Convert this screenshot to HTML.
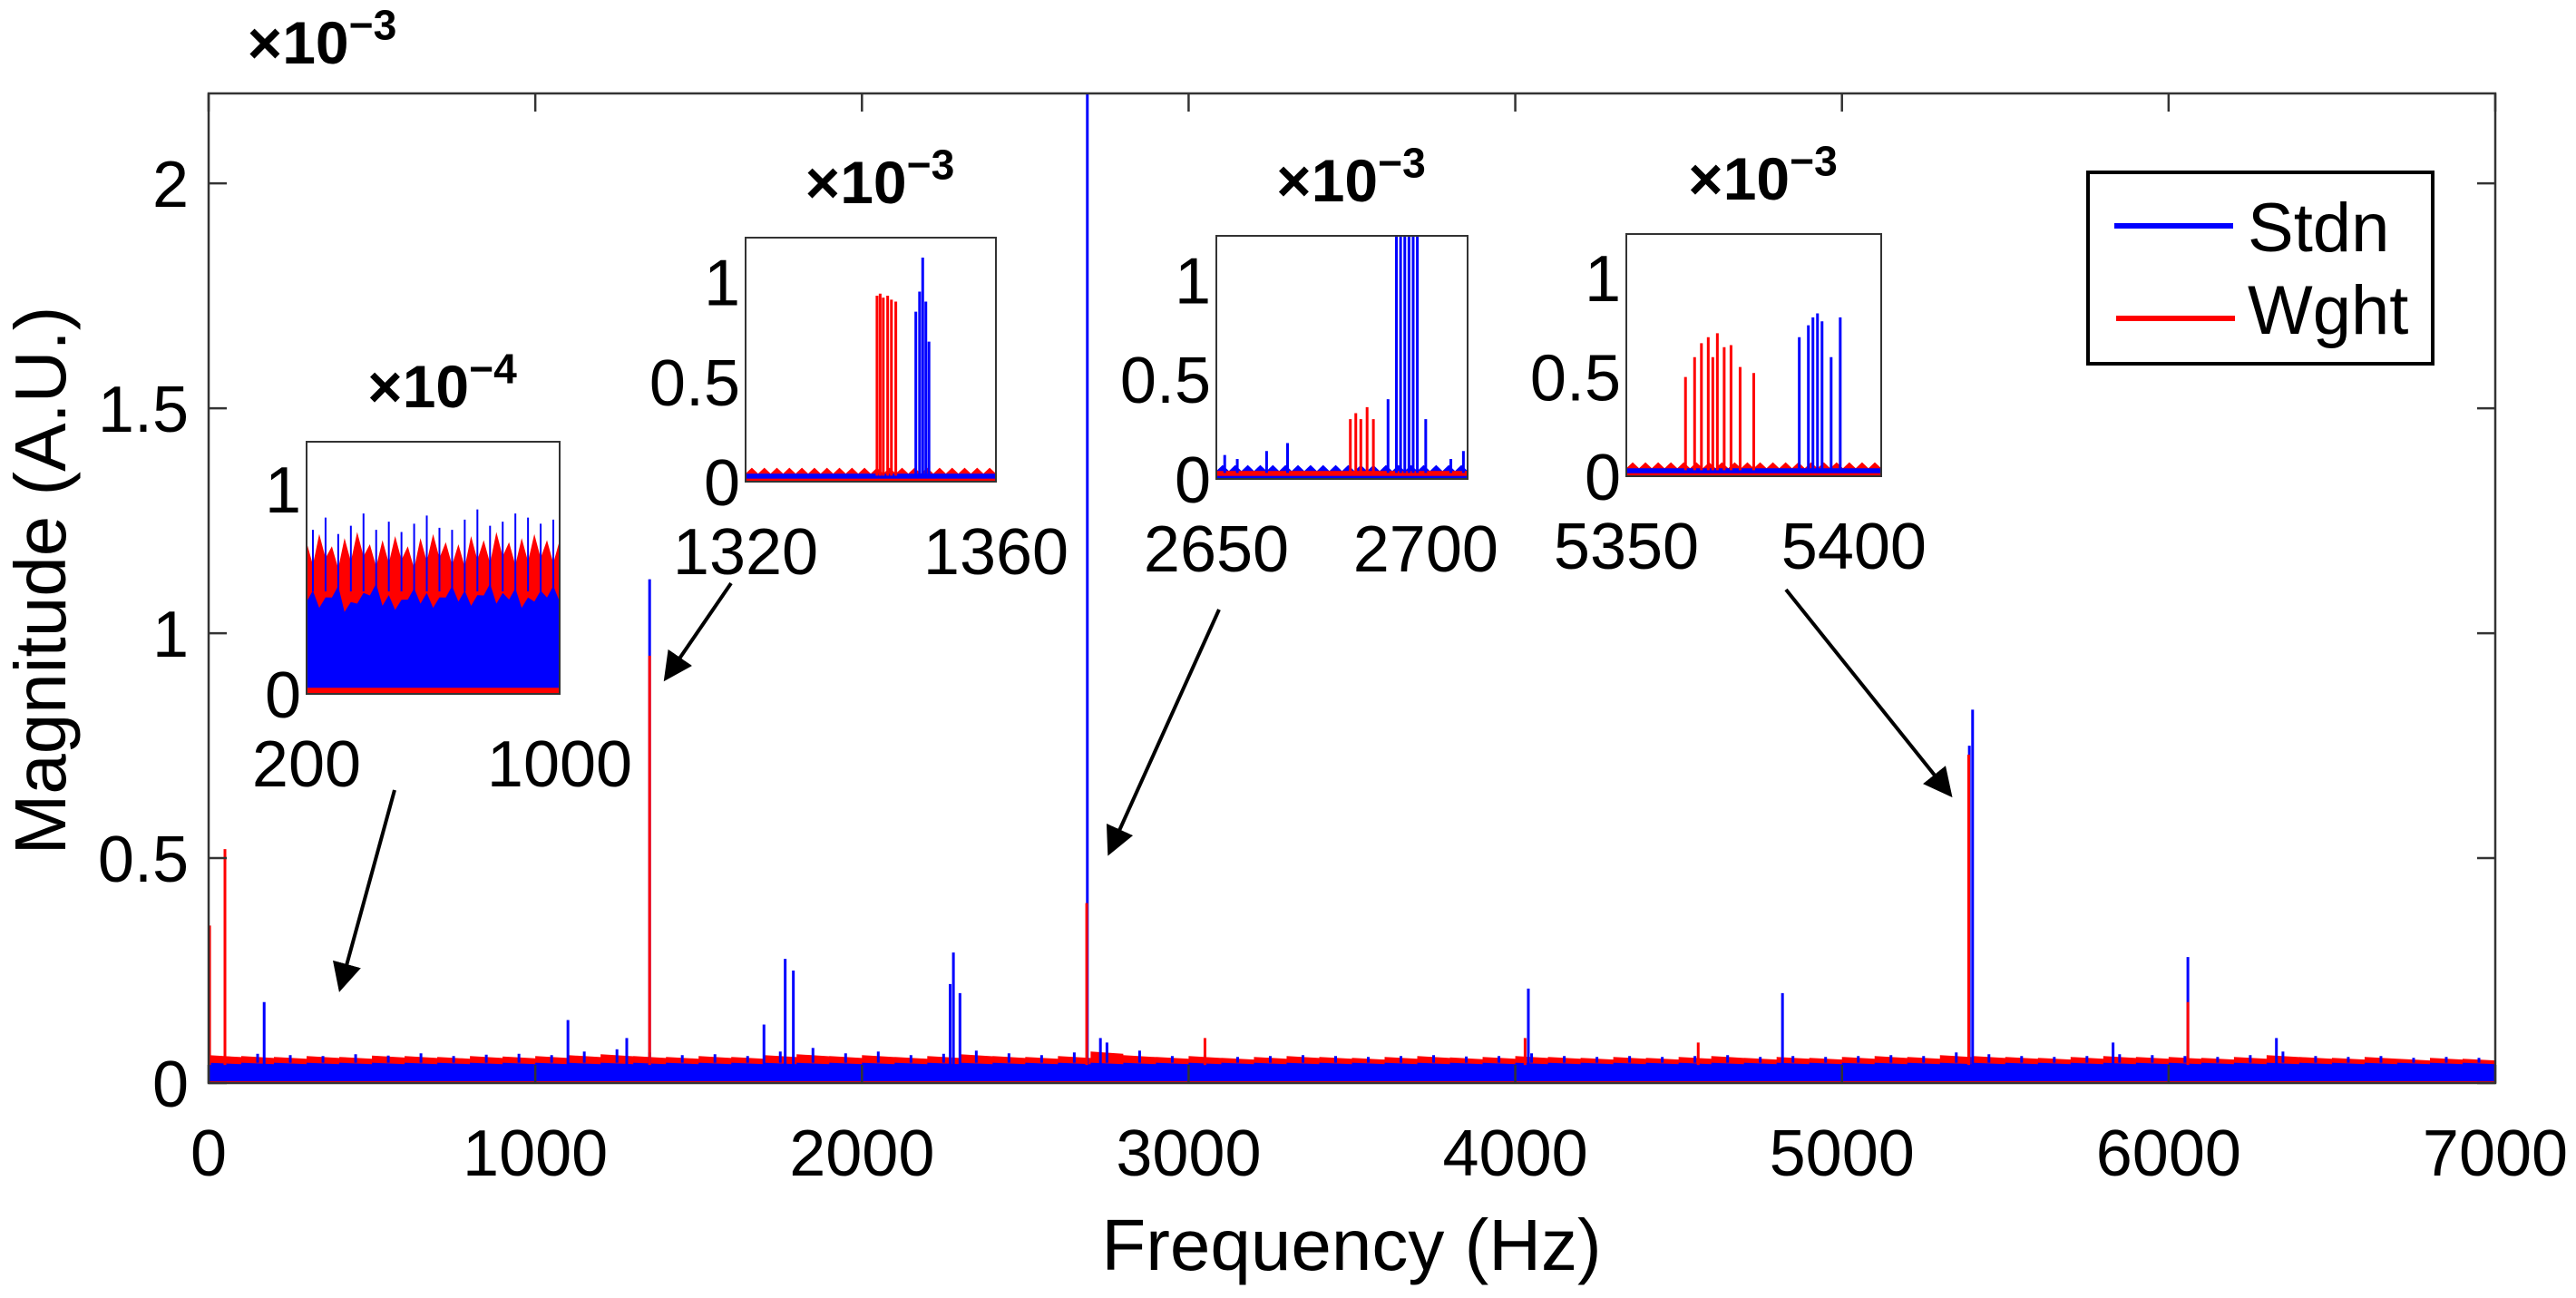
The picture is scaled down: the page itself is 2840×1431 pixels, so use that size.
<!DOCTYPE html>
<html><head><meta charset="utf-8"><style>
html,body{margin:0;padding:0;background:#fff;}
svg{display:block;font-family:"Liberation Sans",Arial,sans-serif;}
</style></head><body>
<svg id="chart" width="2840" height="1431" viewBox="0 0 2840 1431" xmlns="http://www.w3.org/2000/svg"></svg>
<script>
// ---------- data (values in units of 1e-3 for main, per inset scale for insets) ----------
const xTicks = [0,1000,2000,3000,4000,5000,6000,7000];
const yTicks = [0,0.5,1,1.5,2];
const yTickLabels = ["0","0.5","1","1.5","2"];
// noise floor envelopes per 100 Hz bin (0..7000)
const blueTop = [0.07,0.065,0.062,0.06,0.064,0.061,0.066,0.06,0.063,0.065,0.062,0.07,0.075,0.068,0.062,0.064,0.06,0.07,0.078,0.066,0.07,0.062,0.065,0.072,0.066,0.062,0.068,0.09,0.072,0.06,0.062,0.058,0.06,0.062,0.06,0.058,0.06,0.062,0.059,0.06,0.066,0.06,0.058,0.06,0.058,0.06,0.062,0.058,0.06,0.058,0.06,0.062,0.06,0.068,0.064,0.06,0.058,0.06,0.064,0.062,0.06,0.058,0.062,0.07,0.06,0.058,0.06,0.056,0.058,0.056];
const redTop = [0.062,0.06,0.058,0.06,0.058,0.061,0.06,0.058,0.06,0.059,0.06,0.062,0.064,0.06,0.058,0.06,0.058,0.062,0.064,0.06,0.062,0.058,0.06,0.064,0.06,0.058,0.06,0.07,0.062,0.058,0.06,0.056,0.058,0.06,0.058,0.056,0.058,0.06,0.057,0.058,0.06,0.058,0.056,0.058,0.056,0.058,0.06,0.056,0.058,0.056,0.058,0.06,0.058,0.062,0.06,0.058,0.056,0.058,0.06,0.058,0.058,0.056,0.058,0.062,0.058,0.056,0.058,0.054,0.056,0.054];
const blueFloor = 0.045;
// spikes
const blueSpikeF = [50,170,1100,1280,1350,1700,1765,1790,2270,2280,2300,2690,2730,4040,4818,5390,5400,5830,6059,6330];
const blueSpikeV = [0.36,0.18,0.14,0.1,1.12,0.13,0.276,0.25,0.22,0.29,0.2,2.3,0.1,0.21,0.2,0.75,0.83,0.09,0.28,0.1];
const redSpikeF = [3,50,1350,2688,3050,4030,4560,5388,6059];
const redSpikeV = [0.35,0.52,0.95,0.4,0.1,0.1,0.09,0.73,0.18];
// insets
const in1X = [200,1000];
const in1BlueSolid = [0.45,0.42,0.47,0.4,0.44,0.48,0.43,0.41,0.46,0.44,0.42,0.47,0.45,0.43,0.48,0.44,0.46,0.42,0.45,0.47];
const in1RedTop = [0.74,0.78,0.72,0.76,0.79,0.73,0.75,0.77,0.72,0.76,0.78,0.74,0.73,0.77,0.75,0.79,0.74,0.76,0.78,0.75];
const in1BlueTop = [0.8,0.86,0.78,0.82,0.88,0.8,0.84,0.79,0.83,0.87,0.81,0.8,0.85,0.9,0.82,0.84,0.88,0.86,0.83,0.85];
const in2X = [1320,1360];
const in2RedF = [1341,1341.5,1342,1342.7,1343.3,1344];
const in2RedV = [0.93,0.94,0.92,0.93,0.91,0.9];
const in2BlueF = [1347.2,1347.8,1348.3,1348.8,1349.3];
const in2BlueV = [0.85,0.95,1.12,0.9,0.7];
const in3X = [2650,2710];
const in3RedF = [2682,2683.3,2684.5,2686,2687.5];
const in3RedV = [0.3,0.33,0.3,0.36,0.3];
const in3BlueF = [2691,2693,2694,2695,2696,2697,2698,2700];
const in3BlueV = [0.4,1.3,1.3,1.3,1.3,1.3,1.3,0.3];
const in3BlueSmallF = [2652,2655,2662,2667,2706,2709];
const in3BlueSmallV = [0.12,0.1,0.14,0.18,0.1,0.14];
const in4X = [5350,5406];
const in4RedF = [5363,5365,5366.5,5368,5369,5370,5371.5,5373,5375,5378];
const in4RedV = [0.5,0.6,0.67,0.7,0.6,0.72,0.65,0.66,0.55,0.52];
const in4BlueF = [5388,5390,5391,5392,5393,5395,5397];
const in4BlueV = [0.7,0.76,0.8,0.82,0.78,0.6,0.8];

// ---------- helpers ----------
const svg = document.getElementById('chart');
const NS = 'http://www.w3.org/2000/svg';
function mk(tag, attrs, parent){const e=document.createElementNS(NS,tag);for(const k in attrs)e.setAttribute(k,attrs[k]);(parent||svg).appendChild(e);return e;}
function txt(s, x, y, size, anchor, parent){const t=mk('text',{x:x,y:y,'font-size':size,'text-anchor':anchor||'middle',fill:'#000'},parent);t.textContent=s;return t;}

// main axes
const L=230,R=2751,T=103,B=1194, yMax=2.2, xMax=7000;
const xs = f => L + f/xMax*(R-L);
const ys = v => B - Math.min(v,yMax)/yMax*(B-T);

const plot = mk('g',{});


const clip = mk('clipPath',{id:'mainclip'});
mk('rect',{x:L,y:T,width:R-L,height:B-T},clip);
const dataG = mk('g',{'clip-path':'url(#mainclip)'},plot);

function bandPath(arr, xf, yf, x0, step, base){
  let d='M'+xf(x0)+','+yf(base);
  arr.forEach((v,i)=>{d+=' L'+xf(x0+i*step)+','+yf(v)+' L'+xf(x0+(i+1)*step)+','+yf(v*0.93);});
  d+=' L'+xf(x0+arr.length*step)+','+yf(base)+' Z';return d;
}
const redBand = mk('path',{d:bandPath(redTop,xs,ys,0,100,0),fill:'#ff0000'},dataG);


const blueBand = mk('path',{d:bandPath(blueTop.map(()=>blueFloor),xs,ys,0,100,0.004),fill:'#0000ff'},dataG);


blueTop.forEach((v,i)=>{
  const l=mk('line',{x1:xs(i*100+50),x2:xs(i*100+50),y1:ys(blueFloor),y2:ys(v),stroke:'#0000ff','stroke-width':3},dataG);
  
  
});
blueSpikeF.forEach((f,i)=>{
  const l=mk('line',{x1:xs(f),x2:xs(f),y1:ys(0.04),y2:ys(blueSpikeV[i]),stroke:'#0000ff','stroke-width':3},dataG);
  
  
});
redSpikeF.forEach((f,i)=>{
  const l=mk('line',{x1:xs(f),x2:xs(f),y1:ys(0.04),y2:ys(redSpikeV[i]),stroke:'#ff0000','stroke-width':3},dataG);
  
  
});

// frame & ticks
const frame = mk('rect',{x:L,y:T,width:R-L,height:B-T,fill:'none',stroke:'#333','stroke-width':2.5});


xTicks.forEach(t=>{
  mk('line',{x1:xs(t),x2:xs(t),y1:B,y2:B-20,stroke:'#333','stroke-width':2.5});
  mk('line',{x1:xs(t),x2:xs(t),y1:T,y2:T+20,stroke:'#333','stroke-width':2.5});
  const lb=txt(String(t),xs(t),1296,72);
  
  
});
yTicks.forEach((t,i)=>{
  mk('line',{x1:L,x2:L+20,y1:ys(t),y2:ys(t),stroke:'#333','stroke-width':2.5});
  mk('line',{x1:R,x2:R-20,y1:ys(t),y2:ys(t),stroke:'#333','stroke-width':2.5});
  const lb=txt(yTickLabels[i],208,ys(t)+26,72,'end');
  
  
});
function expo(base, e, x, y, size, name){
  const t=mk('text',{x:x,y:y,'font-size':size,'text-anchor':'middle',fill:'#000','font-weight':'bold'});
  
  
  const a=mk('tspan',{},t);a.textContent=base;
  const b=mk('tspan',{dy:-size*0.4,'font-size':size*0.7},t);b.textContent=e;
}
expo('×10','−3',355,70,66,'y-axis-exponent');
const xt=txt('Frequency (Hz)',1490,1400,80);


const yt=txt('Magnitude (A.U.)',0,0,80);
yt.setAttribute('transform','translate(72,640) rotate(-90)');



// legend
const lg=mk('g',{});


mk('rect',{x:2302,y:190,width:380,height:211,fill:'#fff',stroke:'#000','stroke-width':4},lg);
mk('line',{x1:2331,x2:2462,y1:249,y2:249,stroke:'#0000ff','stroke-width':6},lg);
mk('line',{x1:2333,x2:2464,y1:351,y2:351,stroke:'#ff0000','stroke-width':6},lg);
const e1=txt('Stdn',2478,277,76,'start',lg);


const e2=txt('Wght',2478,368,76,'start',lg);



// arrows
mk('defs',{}).innerHTML='<marker id="ah" markerWidth="8" markerHeight="8" refX="7" refY="4" orient="auto" markerUnits="strokeWidth"><path d="M0,0 L8,4 L0,8 Z" fill="#000"/></marker>';
[[435,871,375,1090],[806,643,734,748],[1344,672,1223,940],[1969,650,2150,876]].forEach(a=>{
  const l=mk('line',{x1:a[0],y1:a[1],x2:a[2],y2:a[3],stroke:'#000','stroke-width':4,'marker-end':'url(#ah)'});
  
  
});

// insets
function inset(name, x0,x1,y0,y1, xr, yMaxI, yticks, xlabels, xlabelPos, expE, draw){
  const g=mk('g',{});
  
  
  const fx=f=>x0+(f-xr[0])/(xr[1]-xr[0])*(x1-x0);
  const fy=v=>y1-Math.min(v,yMaxI)/yMaxI*(y1-y0);
  const cid=name+'-clip';
  const c=mk('clipPath',{id:cid},g);mk('rect',{x:x0,y:y0,width:x1-x0,height:y1-y0},c);
  mk('rect',{x:x0,y:y0,width:x1-x0,height:y1-y0,fill:'#fff'},g);
  const dg=mk('g',{'clip-path':'url(#'+cid+')'},g);
  draw(dg,fx,fy);
  mk('rect',{x:x0,y:y0,width:x1-x0,height:y1-y0,fill:'none',stroke:'#333','stroke-width':2},g);
  yticks.forEach(t=>{
    const lb=txt(String(t),x0-6,fy(t)+26,72,'end',g);
    
    
  });
  xlabels.forEach((t,i)=>{
    const lb=txt(String(t),fx(xlabelPos[i]),y1+102,72,'middle',g);
    
    
  });
  expo('×10',expE,(x0+x1)/2+10,y0-38,66,name+'-exponent');
}
function floorBand(dg,fx,fy,xr,red){
  const n=40, st=(xr[1]-xr[0])/n;
  let d='M'+fx(xr[0])+','+fy(0);
  for(let i=0;i<=n;i++){d+=' L'+fx(xr[0]+i*st)+','+fy(i%2?0.07:0.04);}
  d+=' L'+fx(xr[1])+','+fy(0)+' Z';
  mk('path',{d:d,fill:red?'#ff0000':'#0000ff'},dg);
  mk('rect',{x:fx(xr[0]),y:fy(0.04),width:fx(xr[1])-fx(xr[0]),height:fy(0.015)-fy(0.04),fill:red?'#0000ff':'#ff0000'},dg);
}
function lines(dg,fx,fy,F,V,col){F.forEach((f,i)=>{const l=mk('line',{x1:fx(f),x2:fx(f),y1:fy(0.03),y2:fy(V[i]),stroke:col,'stroke-width':3},dg);});}

inset('inset-200-1000',338,617,487,765,in1X,1.23,[0,1],[200,1000],[200,1000],'−4',(dg,fx,fy)=>{
  const n=in1RedTop.length, st=(in1X[1]-in1X[0])/n;
  let d='M'+fx(in1X[0])+','+fy(0);
  in1RedTop.forEach((v,i)=>{d+=' L'+fx(in1X[0]+i*st)+','+fy(v)+' L'+fx(in1X[0]+(i+0.5)*st)+','+fy(v*0.85);});
  d+=' L'+fx(in1X[1])+','+fy(0.75)+' L'+fx(in1X[1])+','+fy(0)+' Z';
  mk('path',{d:d,fill:'#ff0000'},dg);
  let d2='M'+fx(in1X[0])+','+fy(0.03);
  in1BlueSolid.forEach((v,i)=>{d2+=' L'+fx(in1X[0]+i*st)+','+fy(v)+' L'+fx(in1X[0]+(i+0.5)*st)+','+fy(v*1.12);});
  d2+=' L'+fx(in1X[1])+','+fy(0.45)+' L'+fx(in1X[1])+','+fy(0.03)+' Z';
  mk('path',{d:d2,fill:'#0000ff'},dg);
  in1BlueTop.forEach((v,i)=>{mk('line',{x1:fx(in1X[0]+(i+0.5)*st),x2:fx(in1X[0]+(i+0.5)*st),y1:fy(0.5),y2:fy(v),stroke:'#0000ff','stroke-width':2},dg);});
});
inset('inset-1320-1360',822,1098,262,531,in2X,1.22,[0,0.5,1],[1320,1360],[1320,1360],'−3',(dg,fx,fy)=>{
  floorBand(dg,fx,fy,in2X,true);lines(dg,fx,fy,in2RedF,in2RedV,'#ff0000');lines(dg,fx,fy,in2BlueF,in2BlueV,'#0000ff');
});
inset('inset-2650-2710',1341,1618,260,528,in3X,1.22,[0,0.5,1],[2650,2700],[2650,2700],'−3',(dg,fx,fy)=>{
  floorBand(dg,fx,fy,in3X,false);lines(dg,fx,fy,in3BlueSmallF,in3BlueSmallV,'#0000ff');lines(dg,fx,fy,in3RedF,in3RedV,'#ff0000');lines(dg,fx,fy,in3BlueF,in3BlueV,'#0000ff');
});
inset('inset-5350-5406',1793,2074,258,525,in4X,1.22,[0,0.5,1],[5350,5400],[5350,5400],'−3',(dg,fx,fy)=>{
  floorBand(dg,fx,fy,in4X,true);lines(dg,fx,fy,in4RedF,in4RedV,'#ff0000');lines(dg,fx,fy,in4BlueF,in4BlueV,'#0000ff');
});
</script>
</body></html>
